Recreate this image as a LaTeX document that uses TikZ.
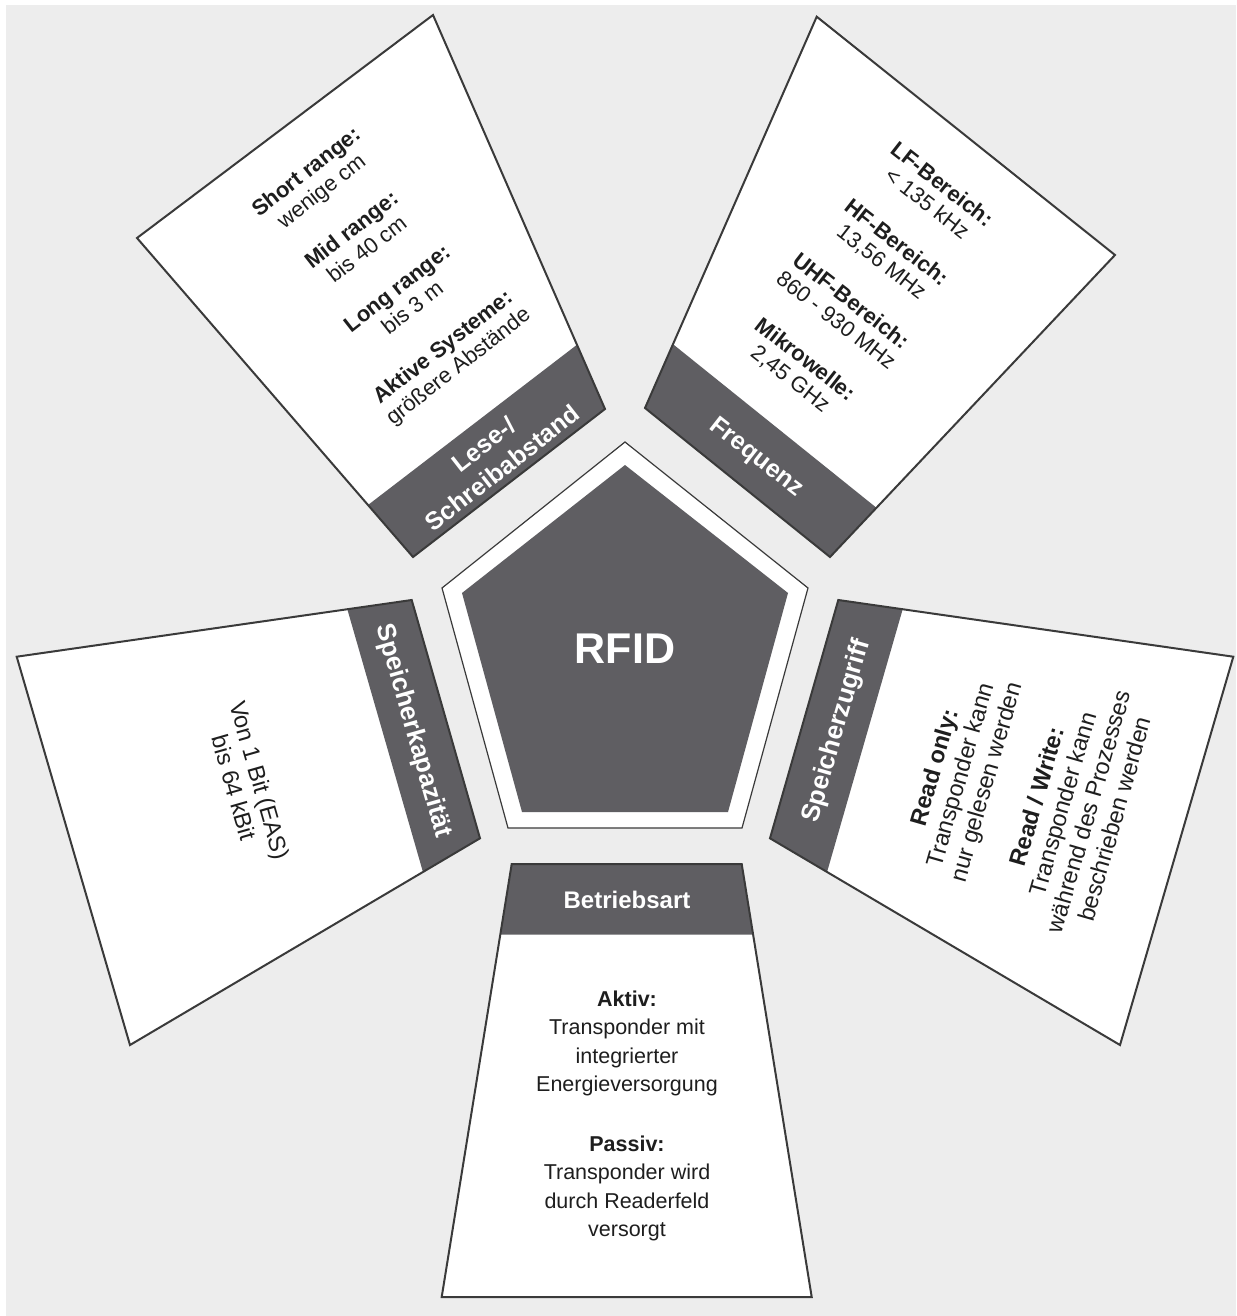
\documentclass[tikz,border=0pt]{standalone}
\usepackage{fontspec}
\setmainfont{Liberation Sans}
\usepackage{xcolor}
\usetikzlibrary{calc}
\definecolor{RBack}{HTML}{EDEDED}
\definecolor{RBand}{HTML}{5F5E62}
\definecolor{RLine}{HTML}{3A3A3A}
\definecolor{RInk}{HTML}{1E1E1E}

\begin{document}
\begin{tikzpicture}[x=1pt, y=-1pt,
  cardline/.style={draw=RLine, line width=2pt, line join=miter},
  band/.style={fill=RBand, draw=none},
  headtext/.style={font=\bfseries\fontsize{#1}{30}\selectfont, text=white, align=center, inner sep=0pt},
  headtext/.default=24,
  bodytext/.style 2 args={font=\fontsize{#1}{#2}\selectfont, text=RInk, align=center, inner sep=0pt}]
\useasboundingbox (0,0) rectangle (1236,1316);
\fill[white] (0,0) rectangle (1236,1316);
\fill[RBack] (6,5) rectangle (1236,1316);

% card corners: i1,i2 next to the pentagon, o2,o1 far side
\coordinate (abst-i1) at (413,557);    \coordinate (abst-i2) at (605,409);    \coordinate (abst-o2) at (433,15);     \coordinate (abst-o1) at (137,238);
\coordinate (freq-i1) at (645,408);    \coordinate (freq-i2) at (830,557);    \coordinate (freq-o2) at (1115,255);   \coordinate (freq-o1) at (816.7,16.7);
\coordinate (kap-i1)  at (411.7,600);  \coordinate (kap-i2)  at (480,838.3);  \coordinate (kap-o2)  at (130,1045);   \coordinate (kap-o1)  at (16.7,656.7);
\coordinate (zugr-i1) at (838.3,600);  \coordinate (zugr-i2) at (770,838.3);  \coordinate (zugr-o2) at (1120,1045);  \coordinate (zugr-o1) at (1233.3,656.7);
\coordinate (betr-i1) at (511.7,864);  \coordinate (betr-i2) at (741.7,864);  \coordinate (betr-o2) at (811.7,1297); \coordinate (betr-o1) at (441.7,1297);

\foreach \c in {abst,freq,kap,zugr,betr}{
  \fill[white] (\c-i1) -- (\c-i2) -- (\c-o2) -- (\c-o1) -- cycle;
  \fill[band] (\c-i1) -- (\c-i2) -- ($(\c-i2)!0.163!(\c-o2)$) -- ($(\c-i1)!0.163!(\c-o1)$) -- cycle;
  \draw[cardline] (\c-i1) -- (\c-i2) -- (\c-o2) -- (\c-o1) -- cycle;
}

% pentagon
\filldraw[fill=white, draw=RLine, line width=1.2pt, line join=miter] (625,442) -- (808,588) -- (742,828) -- (508,828) -- (442,588) -- cycle;
\fill[RBand] (625,465) -- (788,593) -- (728,812) -- (522,812) -- (462,593) -- cycle;
\node[font=\bfseries\fontsize{43}{43}\selectfont, text=white] (rfid) at (625,649) {RFID};

% headers
\node[headtext=25, rotate=38]  (abst-h) at (493,456) {Lese-/\\Schreibabstand};
\node[headtext=25, rotate=-38] (freq-h) at (756,458) {Frequenz};
\node[headtext=26, rotate=-74] (kap-h)  at (413,731) {Speicherkapazität};
\node[headtext=26, rotate=74]  (zugr-h) at (837,731) {Speicherzugriff};
\node[headtext]                (betr-h) at (627,900) {Betriebsart};

% texts
\node[bodytext={22}{24.5}, rotate=38] (abst-t) at (383,270) {\textbf{Short range:}\\wenige cm\\[25pt]\textbf{Mid range:}\\bis 40 cm\\[25pt]\textbf{Long range:}\\bis 3 m\\[25pt]\textbf{Aktive Systeme:}\\größere Abstände};
\node[bodytext={22}{24.5}, rotate=-38] (freq-t) at (866,282) {\textbf{LF-Bereich:}\\< 135 kHz\\[25pt]\textbf{HF-Bereich:}\\13,56 MHz\\[25pt]\textbf{UHF-Bereich:}\\860 - 930 MHz\\[25pt]\textbf{Mikrowelle:}\\2,45 GHz};
\node[bodytext={23.5}{27}, rotate=-74] (kap-t) at (247,784) {Von 1 Bit (EAS)\\bis 64 kBit};
\node[bodytext={23.5}{27}, rotate=74] (zugr-t) at (1024,793) {\textbf{Read only:}\\Transponder kann\\nur gelesen werden\\[26pt]\textbf{Read / Write:}\\Transponder kann\\während des Prozesses\\beschrieben werden};
\node[bodytext={21.5}{28.5}] (betr-t) at (627,1116) {\textbf{Aktiv:}\\Transponder mit\\integrierter\\Energieversorgung\\[31pt]\textbf{Passiv:}\\Transponder wird\\durch Readerfeld\\versorgt};
\end{tikzpicture}
\end{document}
